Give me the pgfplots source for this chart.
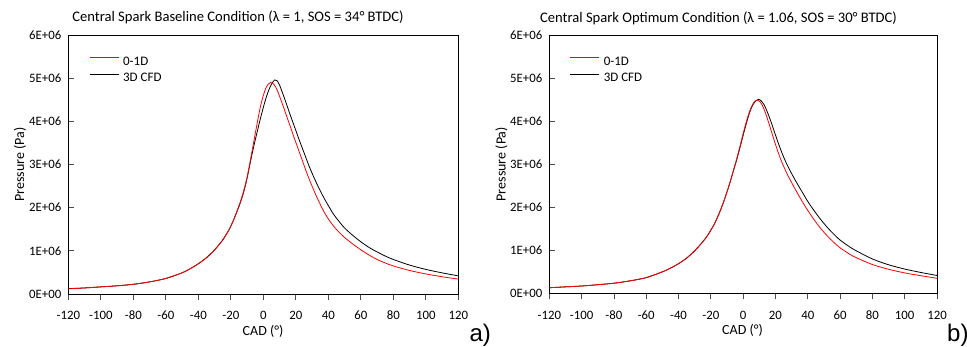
\documentclass[border=0pt]{standalone}
\usepackage{fontspec}
\setmainfont{Carlito}
\newfontfamily\arialf{Liberation Sans}
\usepackage{pgfplots}
\pgfplotsset{compat=1.18}
\pgfplotsset{myax/.style={
  scale only axis,
  xmin=-120, xmax=120, ymin=0, ymax=6e6,
  axis line style={line width=0.8pt, black},
  xtick={-120,-100,...,120},
  xticklabels={-120,-100,-80,-60,-40,-20,0,20,40,60,80,100,120},
  ytick={0,1e6,2e6,3e6,4e6,5e6,6e6},
  yticklabels={0E+00,1E+06,2E+06,3E+06,4E+06,5E+06,6E+06},
  scaled y ticks=false,
  tick align=inside,
  xtick pos=bottom, ytick pos=left,
  major tick length=5.8pt,
  tick style={black!70, line width=0.8pt},
  every x tick/.append style={yshift=-5.8pt},
  xticklabel style={anchor=base, yshift=-26pt, inner sep=0pt, font=\fontsize{12.8}{14}\selectfont},
  yticklabel style={anchor=east, xshift=-6.8pt, inner sep=0pt, font=\fontsize{12.8}{14}\selectfont},
  legend style={draw=none, fill=none, inner sep=0pt, column sep=2.1pt, row sep=2.6pt,
    font=\fontsize{13}{15}\selectfont},
  legend cell align=left,
}}
\begin{document}
\begin{tikzpicture}
\useasboundingbox (0pt,0pt) rectangle (967pt,-347pt);
% ---------- a) ----------
\begin{axis}[myax, at={(68.3pt,-294pt)}, anchor=south west, width=390pt, height=259pt,
  legend image code/.code={\draw[#1] (0pt,4.1pt) -- (29pt,4.1pt);},
  legend style={at={(axis description cs:0.0531,0.924)}, anchor=north west}]
\addplot[black, line width=0.8pt, smooth, forget plot] coordinates {
(-120,0.125e6)(-110,0.14e6)(-100,0.165e6)(-90,0.19e6)(-80,0.225e6)(-70,0.28e6)(-60,0.36e6)(-50,0.49e6)
(-45,0.585e6)(-40,0.70e6)(-35,0.84e6)(-30,1.02e6)(-25,1.25e6)(-22,1.43e6)(-20,1.57e6)(-18,1.74e6)(-16,1.93e6)
(-14,2.13e6)(-12,2.37e6)(-10,2.68e6)(-8,3.05e6)(-6,3.40e6)(-4,3.72e6)(-2,4.03e6)(0,4.32e6)(2,4.58e6)
(4,4.78e6)(5.5,4.89e6)(7,4.96e6)(8.5,4.94e6)(10,4.84e6)(12,4.64e6)(14,4.43e6)(16,4.21e6)(18,4.00e6)
(20,3.79e6)(22,3.58e6)(24,3.38e6)(26,3.18e6)(28,2.98e6)(30,2.80e6)(32,2.63e6)(34,2.47e6)(36,2.32e6)
(38,2.18e6)(40,2.05e6)(43,1.86e6)(46,1.71e6)(50,1.53e6)(55,1.36e6)(60,1.21e6)(65,1.08e6)(70,0.975e6)
(75,0.88e6)(80,0.80e6)(90,0.67e6)(100,0.57e6)(110,0.49e6)(120,0.42e6)};
\addplot[red, line width=0.8pt, smooth] coordinates {
(-120,0.12e6)(-110,0.14e6)(-100,0.165e6)(-90,0.19e6)(-80,0.225e6)(-70,0.28e6)(-60,0.36e6)(-50,0.49e6)
(-45,0.585e6)(-40,0.70e6)(-35,0.84e6)(-30,1.02e6)(-25,1.25e6)(-22,1.43e6)(-20,1.57e6)(-18,1.74e6)(-16,1.94e6)
(-14,2.15e6)(-12,2.40e6)(-10,2.70e6)(-8,3.09e6)(-6,3.50e6)(-4,3.91e6)(-2,4.30e6)(0,4.60e6)(1.5,4.76e6)
(3,4.86e6)(4.5,4.90e6)(6,4.88e6)(7.5,4.80e6)(9,4.68e6)(11,4.48e6)(13,4.27e6)(15,4.05e6)(17,3.84e6)
(19,3.62e6)(21,3.41e6)(23,3.20e6)(25,2.99e6)(27,2.78e6)(29,2.59e6)(31,2.41e6)(33,2.24e6)(35,2.08e6)
(37,1.93e6)(40,1.74e6)(43,1.585e6)(46,1.455e6)(50,1.31e6)(55,1.16e6)(60,1.025e6)(65,0.905e6)(70,0.80e6)
(75,0.72e6)(80,0.65e6)(90,0.545e6)(100,0.465e6)(110,0.40e6)(120,0.345e6)};
\addlegendentry{0-1D}
\addlegendimage{black, line width=0.8pt}
\addlegendentry{3D CFD}
\end{axis}
% ---------- b) ----------
\begin{axis}[myax, at={(549.3pt,-293.3pt)}, anchor=south west, width=387.7pt, height=257.6pt,
  legend image code/.code={\draw[#1] (0pt,4.1pt) -- (29pt,4.1pt);},
  legend style={at={(axis description cs:0.0526,0.927)}, anchor=north west}]
\addplot[black, line width=0.8pt, smooth, forget plot] coordinates {
(-120,0.13e6)(-110,0.15e6)(-100,0.17e6)(-90,0.20e6)(-80,0.235e6)(-70,0.29e6)(-60,0.365e6)(-50,0.50e6)
(-45,0.585e6)(-40,0.69e6)(-35,0.82e6)(-30,0.99e6)(-25,1.20e6)(-22,1.35e6)(-20,1.47e6)(-18,1.60e6)(-16,1.76e6)
(-14,1.94e6)(-12,2.14e6)(-10,2.36e6)(-8,2.60e6)(-6,2.86e6)(-4,3.11e6)(-2,3.39e6)(0,3.68e6)(2,3.96e6)
(4,4.21e6)(6,4.39e6)(8,4.49e6)(9.6,4.52e6)(11,4.49e6)(13,4.39e6)(15,4.22e6)(17,4.02e6)(19,3.80e6)
(21,3.58e6)(23,3.37e6)(25,3.18e6)(27,3.01e6)(29,2.86e6)(31,2.72e6)(34,2.52e6)(37,2.33e6)(40,2.14e6)
(44,1.92e6)(48,1.72e6)(52,1.54e6)(56,1.38e6)(60,1.24e6)(66,1.08e6)(70,0.99e6)(80,0.80e6)(90,0.665e6)
(100,0.565e6)(110,0.485e6)(120,0.415e6)};
\addplot[red, line width=0.8pt, smooth] coordinates {
(-120,0.13e6)(-110,0.15e6)(-100,0.17e6)(-90,0.20e6)(-80,0.235e6)(-70,0.29e6)(-60,0.365e6)(-50,0.50e6)
(-45,0.585e6)(-40,0.69e6)(-35,0.82e6)(-30,0.99e6)(-25,1.20e6)(-22,1.35e6)(-20,1.47e6)(-18,1.60e6)(-16,1.76e6)
(-14,1.94e6)(-12,2.14e6)(-10,2.36e6)(-8,2.60e6)(-6,2.86e6)(-4,3.13e6)(-2,3.42e6)(0,3.72e6)(2,4.00e6)
(4,4.24e6)(6,4.41e6)(7.5,4.48e6)(8.7,4.50e6)(10.5,4.46e6)(12,4.37e6)(14,4.18e6)(16,3.95e6)(18,3.71e6)
(20,3.47e6)(22,3.25e6)(24,3.05e6)(26,2.88e6)(28,2.72e6)(30,2.58e6)(32,2.44e6)(35,2.24e6)(38,2.05e6)
(40,1.93e6)(44,1.71e6)(48,1.51e6)(52,1.34e6)(56,1.19e6)(60,1.06e6)(66,0.91e6)(70,0.83e6)(80,0.67e6)
(90,0.56e6)(100,0.475e6)(110,0.41e6)(120,0.35e6)};
\addlegendentry{0-1D}
\addlegendimage{black, line width=0.8pt}
\addlegendentry{3D CFD}
\end{axis}
% ---------- texts ----------
\node[anchor=base, font=\fontsize{14.6}{16}\selectfont, inner sep=0pt] at (238pt,-22pt) {Central Spark Baseline Condition (λ = 1, SOS = 34° BTDC)};
\node[anchor=base, font=\fontsize{14.6}{16}\selectfont, inner sep=0pt] at (718.5pt,-22.5pt) {Central Spark Optimum Condition (λ = 1.06, SOS = 30° BTDC)};
\node[anchor=base, rotate=90, font=\fontsize{14}{16}\selectfont, inner sep=0pt] at (24pt,-164.5pt) {Pressure (Pa)};
\node[anchor=base, rotate=90, font=\fontsize{14}{16}\selectfont, inner sep=0pt] at (505.5pt,-164.2pt) {Pressure (Pa)};
\node[anchor=base, font=\fontsize{14}{16}\selectfont, inner sep=0pt] at (263pt,-336pt) {CAD (°)};
\node[anchor=base, font=\fontsize{14}{16}\selectfont, inner sep=0pt] at (742.5pt,-335pt) {CAD (°)};
\node[anchor=base west, font=\arialf\fontsize{24}{26}\selectfont, inner sep=0pt] at (469.3pt,-341.7pt) {a)};
\node[anchor=base west, font=\arialf\fontsize{24}{26}\selectfont, inner sep=0pt] at (947pt,-341.7pt) {b)};
\end{tikzpicture}
\end{document}
